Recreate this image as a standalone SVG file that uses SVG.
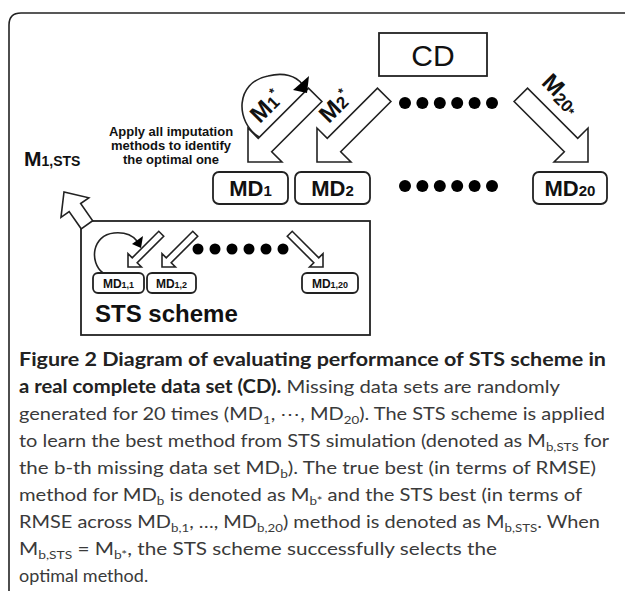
<svg xmlns="http://www.w3.org/2000/svg" xmlns:xlink="http://www.w3.org/1999/xlink" width="625" height="591" viewBox="0 0 625 591">
<style>
.ln{fill:none;stroke:#222;stroke-width:1.6}
.arr{fill:#fff;stroke:#222;stroke-width:1.6;stroke-linejoin:miter}
.box{fill:#fff;stroke:#222;stroke-width:1.8}
.dot{fill:#000}
.lbl{font-family:"Liberation Sans",Arial,sans-serif;font-weight:bold;fill:#111}
.cap{font-family:Lato,"Open Sans",sans-serif;font-size:18px;fill:#3a3a3a}
.capb{font-weight:bold;fill:#222}
</style>
<defs>
<polygon id="bigArrow" points="0,0 -24,-24 -24,-9.5 -95,-9.5 -95,9.5 -24,9.5 -24,24"/>
<polygon id="smallArrow" points="0,0 -9.5,-9.5 -9.5,-3.5 -47,-3.5 -47,3.5 -9.5,3.5 -9.5,9.5"/>
<polygon id="upArrow" points="0,0 -19,-17 -19,-7 -40,-7 -40,7 -19,7 -19,17"/>
</defs>
<rect width="625" height="591" fill="#fff"/>
<path d="M9,591 V25 Q9,13 21,13 H625" class="ln" stroke="#444" stroke-width="2"/>

<g id="sts-frame">
  <rect x="81" y="221" width="289" height="114" class="box" stroke="#333"/>
</g>

<g id="connectors">
  <use xlink:href="#bigArrow" class="arr" transform="translate(248,162) rotate(135)"/>
  <use xlink:href="#bigArrow" class="arr" transform="translate(317,162) rotate(135)"/>
  <use xlink:href="#bigArrow" class="arr" transform="translate(588,162) rotate(45)"/>
  <path d="M259,137 C235,122 235,82 268,76 C284,72 296,76 302,84" class="ln" stroke-width="1.3"/>
  <polygon points="293,90 309,76 307,93" fill="#000"/>
  <use xlink:href="#upArrow" class="arr" transform="translate(64,192) rotate(-125)"/>
  <use xlink:href="#smallArrow" class="arr" transform="translate(128,267) rotate(135)"/>
  <use xlink:href="#smallArrow" class="arr" transform="translate(162,267) rotate(135)"/>
  <use xlink:href="#smallArrow" class="arr" transform="translate(323,267) rotate(45)"/>
  <path d="M103,273 C89,262 92,235 114,233 C125,232 133,236 137,241" class="ln" stroke-width="1.1"/>
  <polygon points="132,244 143,236 141,248" fill="#000"/>
</g>

<g id="cd">
  <rect x="379" y="33" width="108" height="43" class="box" fill="#fff"/>
  <text x="433" y="65.5" text-anchor="middle" font-family="Liberation Sans,Arial,sans-serif" font-size="30" fill="#111">CD</text>
</g>

<g id="labels-arrows" class="lbl">
  <text transform="translate(272,112) rotate(-45)" text-anchor="middle"><tspan font-size="24">M</tspan><tspan font-size="17">1</tspan><tspan font-size="13" dy="-9">*</tspan></text>
  <text transform="translate(341,112) rotate(-45)" text-anchor="middle"><tspan font-size="24">M</tspan><tspan font-size="17">2</tspan><tspan font-size="13" dy="-9">*</tspan></text>
  <text transform="translate(556,99) rotate(45)" text-anchor="middle"><tspan font-size="24">M</tspan><tspan font-size="17" dy="3">20</tspan><tspan font-size="13" dy="1">*</tspan></text>
</g>

<g id="apply-note" class="lbl" font-size="13" text-anchor="middle">
  <text x="171" y="136">Apply all imputation</text>
  <text x="171" y="150">methods to identify</text>
  <text x="171" y="164">the optimal one</text>
</g>

<g id="dots-top">
  <circle cx="405" cy="103" r="6" class="dot"/><circle cx="422.4" cy="103" r="6" class="dot"/><circle cx="439.8" cy="103" r="6" class="dot"/><circle cx="457.2" cy="103" r="6" class="dot"/><circle cx="474.6" cy="103" r="6" class="dot"/><circle cx="492" cy="103" r="6" class="dot"/>
</g>

<g id="md1">
  <rect x="213" y="172" width="75" height="32" rx="6" class="box"/>
  <text x="250.5" y="196" text-anchor="middle" class="lbl"><tspan font-size="22">MD</tspan><tspan font-size="15">1</tspan></text>
</g>
<g id="md2">
  <rect x="295" y="172" width="75" height="32" rx="6" class="box"/>
  <text x="332.5" y="196" text-anchor="middle" class="lbl"><tspan font-size="22">MD</tspan><tspan font-size="15">2</tspan></text>
</g>
<g id="dots-mid">
  <circle cx="405" cy="186" r="6" class="dot"/><circle cx="422.4" cy="186" r="6" class="dot"/><circle cx="439.8" cy="186" r="6" class="dot"/><circle cx="457.2" cy="186" r="6" class="dot"/><circle cx="474.6" cy="186" r="6" class="dot"/><circle cx="492" cy="186" r="6" class="dot"/>
</g>
<g id="md20">
  <rect x="533" y="172" width="74" height="32" rx="6" class="box"/>
  <text x="570" y="196" text-anchor="middle" class="lbl"><tspan font-size="22">MD</tspan><tspan font-size="15">20</tspan></text>
</g>

<g id="m1sts">
  <text x="24" y="166" class="lbl"><tspan font-size="21">M</tspan><tspan font-size="14">1,STS</tspan></text>
</g>

<g id="sts-scheme">
  <g id="md11">
    <rect x="93" y="273" width="51" height="20" rx="5" class="box" stroke-width="1.3"/>
    <text x="118.5" y="288" text-anchor="middle" class="lbl"><tspan font-size="12">MD</tspan><tspan font-size="9">1,1</tspan></text>
  </g>
  <g id="md12">
    <rect x="147" y="273" width="49" height="20" rx="5" class="box" stroke-width="1.3"/>
    <text x="171.5" y="288" text-anchor="middle" class="lbl"><tspan font-size="12">MD</tspan><tspan font-size="9">1,2</tspan></text>
  </g>
  <g id="md120">
    <rect x="302" y="273" width="56" height="20" rx="5" class="box" stroke-width="1.3"/>
    <text x="330" y="288" text-anchor="middle" class="lbl"><tspan font-size="12">MD</tspan><tspan font-size="9">1,20</tspan></text>
  </g>
  <g id="dots-sts">
    <circle cx="198" cy="249" r="5.5" class="dot"/><circle cx="215" cy="249" r="5.5" class="dot"/><circle cx="232" cy="249" r="5.5" class="dot"/><circle cx="249" cy="249" r="5.5" class="dot"/><circle cx="266" cy="249" r="5.5" class="dot"/><circle cx="283" cy="249" r="5.5" class="dot"/>
  </g>
  <text x="95" y="322" class="lbl" font-size="24">STS scheme</text>
</g>

<g id="caption" class="cap">
  <text x="19" y="366" textLength="587" lengthAdjust="spacingAndGlyphs" class="capb">Figure 2 Diagram of evaluating performance of STS scheme in</text>
  <text x="19" y="393" textLength="541" lengthAdjust="spacingAndGlyphs"><tspan class="capb">a real complete data set (CD).</tspan> Missing data sets are randomly</text>
  <text x="19" y="420" textLength="586" lengthAdjust="spacingAndGlyphs">generated for 20 times (MD<tspan font-size="12" dy="4">1</tspan><tspan dy="-4">, ⋯, MD</tspan><tspan font-size="12" dy="4">20</tspan><tspan dy="-4">). The STS scheme is applied</tspan></text>
  <text x="19" y="447" textLength="590" lengthAdjust="spacingAndGlyphs">to learn the best method from STS simulation (denoted as M<tspan font-size="12" dy="4">b,STS</tspan><tspan dy="-4"> for</tspan></text>
  <text x="19" y="474" textLength="577" lengthAdjust="spacingAndGlyphs">the b-th missing data set MD<tspan font-size="12" dy="4">b</tspan><tspan dy="-4">). The true best (in terms of RMSE)</tspan></text>
  <text x="19" y="501" textLength="563" lengthAdjust="spacingAndGlyphs">method for MD<tspan font-size="12" dy="4">b</tspan><tspan dy="-4"> is denoted as M</tspan><tspan font-size="12" dy="4">b*</tspan><tspan dy="-4"> and the STS best (in terms of</tspan></text>
  <text x="19" y="528" textLength="581" lengthAdjust="spacingAndGlyphs">RMSE across MD<tspan font-size="12" dy="4">b,1</tspan><tspan dy="-4">, …, MD</tspan><tspan font-size="12" dy="4">b,20</tspan><tspan dy="-4">) method is denoted as M</tspan><tspan font-size="12" dy="4">b,STS</tspan><tspan dy="-4">. When</tspan></text>
  <text x="19" y="555" textLength="478" lengthAdjust="spacingAndGlyphs">M<tspan font-size="12" dy="4">b,STS</tspan><tspan dy="-4"> = M</tspan><tspan font-size="12" dy="4">b*</tspan><tspan dy="-4">, the STS scheme successfully selects the</tspan></text>
  <text x="19" y="582">optimal method.</text>
</g>
</svg>
